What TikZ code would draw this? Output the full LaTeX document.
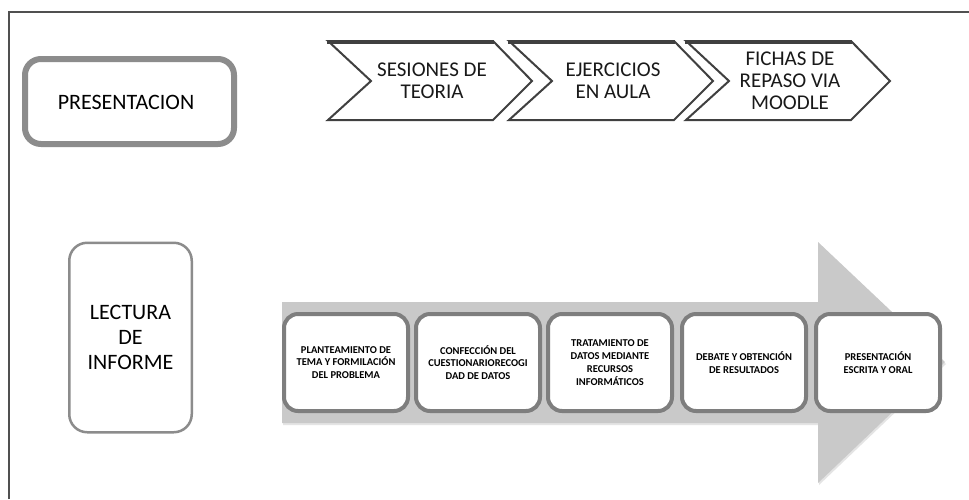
\documentclass[tikz,border=0pt]{standalone}
\usepackage{fontspec}
\setmainfont{Carlito}
\begin{document}
\begin{tikzpicture}[x=1pt,y=-1pt,
  bigbox/.style={draw=boxgray, fill=white, rounded corners=16pt, line width=6pt, inner sep=0pt},
  tallbox/.style={draw=boxgray, fill=white, rounded corners=18pt, line width=2.5pt, inner sep=0pt},
  chev/.style={draw=chevdark, fill=white, line width=2pt, line join=miter},
  chevtop/.style={draw=chevdark, line width=4pt},
  chevtext/.style={align=center, font=\fontsize{21}{22}\selectfont, inner sep=0pt, text=black!90},
  stepbox/.style={draw=stepgray, fill=white, rounded corners=14pt, line width=4pt,
     minimum width=124pt, minimum height=97pt, inner sep=0pt, align=center,
     font=\bfseries\fontsize{10.5}{12.8}\selectfont},
  bigtext/.style={align=center, font=\fontsize{22}{25}\selectfont, inner sep=0pt}
]
\definecolor{boxgray}{HTML}{8C8C8C}
\definecolor{stepgray}{HTML}{7E7E7E}
\definecolor{chevdark}{HTML}{404040}
\definecolor{arrowgray}{HTML}{C9C9C9}
\definecolor{framegray}{HTML}{505050}
\useasboundingbox (0,0) rectangle (969,499);
\fill[white] (0,0) rectangle (969,499);
% frame
\draw[framegray, line width=1.2pt] (9,499) -- (9,12) -- (969,12);
% PRESENTACION
\node[bigbox, minimum width=209pt, minimum height=85pt] (pres) at (129.5,101.5) {};
\node[bigtext] (prestext) at (126,102) {PRESENTACION};
% LECTURA DE INFORME
\node[tallbox, minimum width=122.5pt, minimum height=189.5pt] (lect) at (130.5,337.5) {};
\node[bigtext] (lecttext) at (130.5,337) {LECTURA\\DE\\INFORME};
% chevrons
\foreach \L/\nm/\txt in {328/c1/{SESIONES DE\\TEORIA}, 509/c2/{EJERCICIOS\\EN AULA}, 686/c3/{FICHAS DE\\REPASO VIA\\MOODLE}}{
  \draw[chev] (\L,41) -- (\L+165,41) -- (\L+204,81) -- (\L+165,120) -- (\L,120) -- (\L+43,81) -- cycle;
  \draw[chevtop] (\L-1,41.5) -- (\L+165.5,41.5);
  \node[chevtext] (\nm) at (\L+104,81) {\txt};
}
% big arrow with soft shadow
\fill[black!30, opacity=0.35] (283,304) -- (819,304) -- (819,244) -- (946,364) -- (819,485) -- (819,425) -- (283,425) -- cycle;
\fill[arrowgray] (282,302) -- (818,302) -- (818,242) -- (945,362) -- (818,483) -- (818,423) -- (282,423) -- cycle;
% step boxes
\node[stepbox] (s1) at (346,362.5) {PLANTEAMIENTO DE\\TEMA Y FORMILACIÓN\\DEL PROBLEMA};
\node[stepbox] (s2) at (478,362.5) {CONFECCIÓN DEL\\CUESTIONARIORECOGI\\DAD DE DATOS};
\node[stepbox] (s3) at (610,362.5) {TRATAMIENTO DE\\DATOS MEDIANTE\\RECURSOS\\INFORMÁTICOS};
\node[stepbox] (s4) at (744,362.5) {DEBATE Y OBTENCIÓN\\DE RESULTADOS};
\node[stepbox] (s5) at (878,362.5) {PRESENTACIÓN\\ESCRITA Y ORAL};
\end{tikzpicture}
\end{document}
